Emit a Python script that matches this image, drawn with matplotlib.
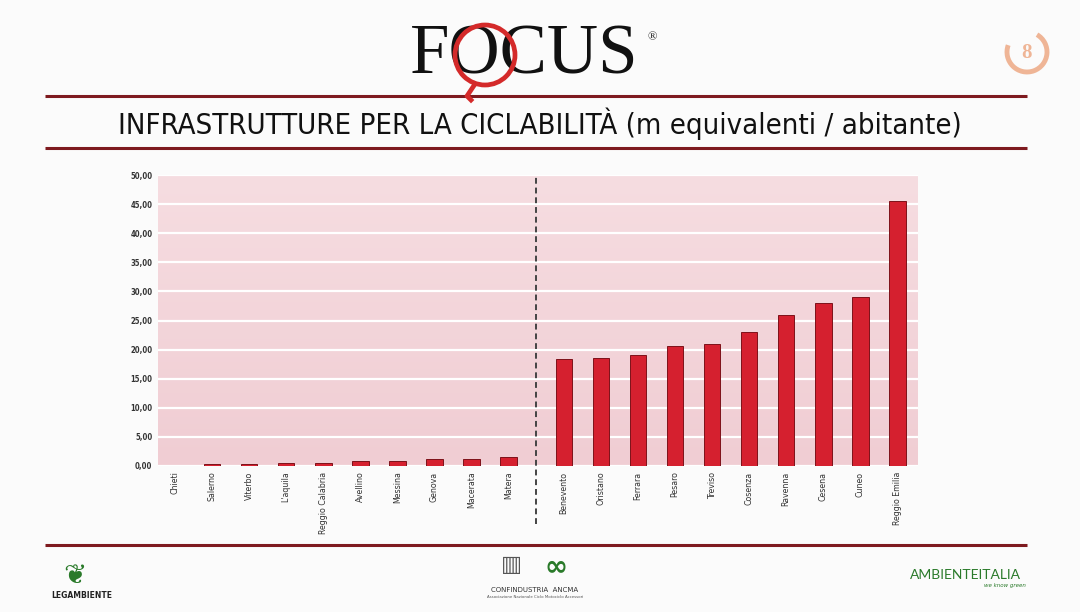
"""
Infrastrutture per la ciclabilita' - bar chart recreated with matplotlib.
"""

import numpy as np
import matplotlib
matplotlib.use("Agg")
import matplotlib.pyplot as plt
from matplotlib.patches import Circle, Arc
from matplotlib.ticker import FuncFormatter

# Data
cities_low = ["Chieti", "Salerno", "Viterbo", "L'aquila", "Reggio Calabria",
              "Avellino", "Messina", "Genova", "Macerata", "Matera"]
values_low = [0.0, 0.3, 0.3, 0.58, 0.6, 0.8, 0.92, 1.16, 1.27, 1.5]

cities_high = ["Benevento", "Oristano", "Ferrara", "Pesaro", "Treviso",
               "Cosenza", "Ravenna", "Cesena", "Cuneo", "Reggio Emilia"]
values_high = [18.3, 18.55, 19.0, 20.6, 21.0, 23.0, 26.0, 28.0, 29.1, 45.6]

y_ticks = [0, 5, 10, 15, 20, 25, 30, 35, 40, 45, 50]

title = "INFRASTRUTTURE PER LA CICLABILITÀ (m equivalenti / abitante)"

BAR = "#d5202f"
EDGE = "#7d1119"
DARKRED = "#7e1a1f"
GREEN = "#2a7a2a"

fig = plt.figure(figsize=(10.8, 6.12), dpi=100)
fig.patch.set_facecolor("#fbfbfb")

# overlay axes in pixel coordinates for the slide decorations
deco = fig.add_axes([0, 0, 1, 1], zorder=0)
deco.set_xlim(0, 1080)
deco.set_ylim(612, 0)
deco.axis("off")

# header / footer rules
for yy in (96, 148, 545):
    deco.plot([45, 1027], [yy, yy], color=DARKRED, lw=2.2, solid_capstyle="butt")

# FOCUS logo (text + red magnifier ring)
serif = ["Liberation Serif", "DejaVu Serif"]
deco.text(410, 74, "FOCUS", family=serif, fontsize=51, color="#111111",
          va="baseline", ha="left")
deco.text(652, 37, "®", family=serif, fontsize=9, color="#222222", ha="center", va="center")
deco.add_patch(Circle((485, 55), 30, fill=False, ec="#d42a2a", lw=3.4, zorder=3))
deco.plot([475, 467, 471], [84, 96, 100], color="#d42a2a", lw=3.4, zorder=3)

# page number badge
deco.add_patch(Arc((1027, 52), 40, 40, theta1=-60, theta2=200, color="#efb596", lw=3.5))
deco.text(1027, 53, "8", family=serif, fontsize=15, fontweight="bold",
          color="#efb596", ha="center", va="center")

# title
deco.text(540, 124, title, fontsize=21, family=["DejaVu Sans"], fontstretch="condensed",
          color="#111111", ha="center", va="center")

# footer logos, drawn as text
deco.text(75, 576, "❦", fontsize=20, color=GREEN, ha="center", va="center",
          family=["DejaVu Sans"])
deco.text(82, 596, "LEGAMBIENTE", fontsize=5.5, fontweight="bold", color="#222222",
          ha="center", va="center")
deco.text(511, 565, "▥", fontsize=16, color="#555555", ha="center", va="center",
          family=["DejaVu Sans"])
deco.text(556, 566, "∞", fontsize=20, color=GREEN, ha="center", va="center",
          family=["DejaVu Sans"], fontweight="bold")
deco.text(535, 590, "CONFINDUSTRIA  ANCMA", fontsize=5, color="#333333",
          ha="center", va="center")
deco.text(535, 597, "Associazione Nazionale Ciclo Motociclo Accessori", fontsize=2.8,
          color="#555555", ha="center", va="center")
deco.text(965, 575, "AMBIENTEITALIA", fontsize=10, color=GREEN, ha="center",
          va="center", family=["Lato", "DejaVu Sans"])
deco.text(1026, 585, "we know green", fontsize=4, color=GREEN, ha="right",
          va="center", style="italic")

# chart axes
ax = fig.add_axes([158 / 1080, 1 - 466 / 612, 760 / 1080, 291 / 612], zorder=1)

x_low = np.arange(len(cities_low))
x_high = np.arange(len(cities_high)) + len(cities_low) + 0.5
labels = cities_low + cities_high
positions = np.concatenate([x_low, x_high])

# soft pink background gradient
grad = np.linspace(0, 1, 256).reshape(-1, 1)
cmap = matplotlib.colors.LinearSegmentedColormap.from_list(
    "pink", ["#f0cdd3", "#f6dde1"])
ax.imshow(grad, extent=[-0.46, 20.06, 0, 50], aspect="auto", cmap=cmap,
          origin="lower", zorder=0)

ax.bar(x_low, values_low, width=0.45, color=BAR, edgecolor=EDGE, lw=0.7, zorder=3)
ax.bar(x_high, values_high, width=0.45, color=BAR, edgecolor=EDGE, lw=0.7, zorder=3)

ax.set_xlim(-0.46, 20.06)
ax.set_ylim(0, 50)
ax.set_yticks(y_ticks)
ax.yaxis.set_major_formatter(FuncFormatter(lambda v, p: f"{v:.2f}".replace(".", ",")))
ax.grid(axis="y", color="white", lw=1.6, zorder=1)
ax.set_axisbelow(True)

ax.set_xticks(positions)
ax.set_xticklabels(labels, rotation=90, fontsize=6.3, color="#333333",
                   family=["DejaVu Sans"], fontstretch="condensed")
for lab in ax.get_yticklabels():
    lab.set_fontsize(5.5)
    lab.set_color("#333333")
    lab.set_fontweight("bold")
    lab.set_fontstretch("condensed")
ax.tick_params(length=0, pad=4)
for s in ax.spines.values():
    s.set_visible(False)

# dashed separator between the two groups
sep = (x_low[-1] + x_high[0]) / 2
ax.axvline(sep, ymin=-0.2, ymax=1.0, color="#444444", lw=1.4,
           linestyle=(0, (3, 2)), clip_on=False, zorder=4)

fig.savefig("out.png", dpi=100, facecolor=fig.get_facecolor())
